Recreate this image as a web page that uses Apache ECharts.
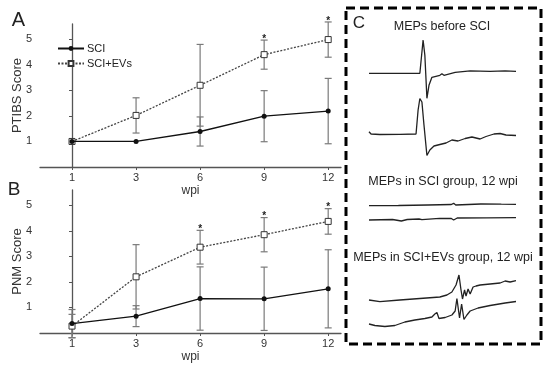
<!DOCTYPE html>
<html>
<head>
<meta charset="utf-8">
<script src="https://cdn.jsdelivr.net/npm/echarts@6/dist/echarts.min.js"></script>
<style>html,body{margin:0;padding:0;background:#fff;}#c{width:550px;height:371px;}</style>
</head>
<body>
<div id="c"></div>
<script>
// ---- data ----
const categories = ['1', '3', '6', '9', '12'];
const yTicks = [1, 2, 3, 4, 5];

const ptibsSCI = [1.0, 1.0, 1.39, 1.99, 2.19];
const ptibsSCIErr = [0, 0, 0.57, 1.0, 1.28];
const ptibsEVs = [1.0, 2.02, 3.2, 4.40, 4.99];
const ptibsEVsErr = [0, 0.69, 1.6, 0.57, 0.69];
const ptibsSig = [false, false, false, true, true];

const pnmSCI = [0.37, 0.66, 1.35, 1.34, 1.73];
const pnmSCIErr = [0.55, 0.41, 1.24, 1.24, 1.53];
const pnmEVs = [0.27, 2.2, 3.36, 3.85, 4.37];
const pnmEVsErr = [0.46, 1.26, 0.66, 0.67, 0.5];
const pnmSig = [false, false, true, true, true];

// MEP traces: [time (ms), amplitude (a.u.)]
const mepBefore1 = [[0,0],[17.3,0],[17.7,0.1],[18.4,3.33],[19.0,1.8],[19.7,-2.5],[20.4,-1.2],[21.4,-0.4],[24.1,-0.2],[24.8,-0.05],[25.5,-0.2],[29.3,0.1],[34.4,0.25],[41.2,0.2],[46.3,0.25],[50,0.2]];
const mepBefore2 = [[0,0.13],[0.7,-0.1],[3.7,-0.15],[10.5,-0.13],[16.0,-0.1],[16.7,2.3],[17.3,3.45],[18.0,3.1],[18.7,0.8],[19.7,-2.25],[20.7,-1.7],[22.1,-1.3],[24.1,-1.15],[26.2,-1.0],[28.2,-0.7],[30.3,-0.8],[32.7,-0.55],[35.0,-0.4],[37.8,-0.6],[39.8,-0.35],[42.5,-0.1],[44.6,-0.05],[46.6,-0.2],[50,-0.25]];
const mepSCI1 = [[0,-0.07],[10,-0.05],[20,0],[28,0.05],[28.8,0.17],[29.5,0],[38,0.1],[45,0.08],[50,0.07]];
const mepSCI2 = [[0,-0.1],[8,-0.05],[11,-0.2],[13,-0.05],[17,0],[18,-0.07],[24,0.07],[28,0.05],[28.8,-0.1],[30,0.1],[40,0.12],[50,0.13]];
const mepEVs1 = [[0,0],[3.7,-0.17],[10.5,0],[17.3,0.15],[24.1,0.3],[26.5,0.5],[28.2,0.8],[29.6,1.5],[30.6,2.5],[31.3,1.0],[31.8,0.1],[32.5,1.0],[33.0,0.4],[33.7,1.1],[34.4,0.6],[35.4,1.3],[36.4,1.4],[37.8,1.5],[41.2,1.6],[44.6,1.7],[46.3,1.9],[48,1.8],[50,1.93]];
const mepEVs2 = [[0,-0.4],[2.0,-0.55],[5.4,-0.65],[8.8,-0.55],[12.2,-0.2],[15.6,0],[19.0,0.15],[21.4,0.3],[22.4,0.6],[23.1,0.75],[23.8,0.15],[25.9,0.25],[28.2,0.5],[29.3,0.9],[29.9,2.15],[30.8,0.2],[31.5,1.6],[32.3,0.05],[33.3,0.5],[34.4,0.9],[37.1,1.2],[41.2,1.45],[46.3,1.7],[50,1.85]];

// ---- chart ----
const FONT = 'Liberation Sans, Arial, sans-serif';
const axisGray = '#555';
const labelGray = '#333';
const errGray = '#7a7a7a';

function idxData(vals) { return vals.map((v, i) => [i, v]); }
function errData(vals, errs, sig) { return vals.map((v, i) => [i, v - errs[i], v + errs[i], sig ? (sig[i] ? 1 : 0) : 0]); }

function errRender(params, api) {
  const x = api.value(0);
  const lo = api.coord([x, api.value(1)]);
  const hi = api.coord([x, api.value(2)]);
  const children = [];
  const hw = 3.5;
  if (Math.abs(hi[1] - lo[1]) > 0.5) {
    const st = { stroke: errGray, lineWidth: 1.2 };
    children.push({ type: 'line', shape: { x1: lo[0], y1: lo[1], x2: hi[0], y2: hi[1] }, style: st });
    children.push({ type: 'line', shape: { x1: lo[0] - hw, y1: lo[1], x2: lo[0] + hw, y2: lo[1] }, style: st });
    children.push({ type: 'line', shape: { x1: hi[0] - hw, y1: hi[1], x2: hi[0] + hw, y2: hi[1] }, style: st });
  }
  if (api.value(3) === 1) {
    children.push({ type: 'text', style: { text: '*', x: hi[0], y: hi[1] - 1, align: 'center', verticalAlign: 'middle', fill: '#222', font: 'bold 10px ' + FONT } });
  }
  return { type: 'group', children: children };
}

const xAxisBase = (gi) => ({
  type: 'value', gridIndex: gi, min: -0.5, max: 4.2,
  splitLine: { show: false },
  axisLine: { lineStyle: { color: axisGray, width: 1.3 } },
  axisTick: { show: true, length: 3, customValues: [0, 1, 2, 3, 4], lineStyle: { color: axisGray } },
  axisLabel: { customValues: [0, 1, 2, 3, 4], formatter: v => categories[Math.round(v)], color: labelGray, fontSize: 11, fontFamily: FONT, margin: 5 },
  name: 'wpi', nameLocation: 'middle', nameGap: 18, nameMoveOverlap: false,
  nameTextStyle: { color: labelGray, fontSize: 12, fontFamily: FONT }
});
const yAxisBase = (gi, title) => ({
  type: 'value', gridIndex: gi, min: 0, max: 5.6,
  splitLine: { show: false },
  axisLine: { show: true, lineStyle: { color: axisGray, width: 1.3 } },
  axisTick: { show: true, length: 3, customValues: yTicks, lineStyle: { color: axisGray } },
  axisLabel: { customValues: yTicks, color: labelGray, fontSize: 11, fontFamily: FONT, margin: 8 },
  name: title, nameLocation: 'middle', nameGap: 16, nameRotate: 90, nameMoveOverlap: false,
  nameTextStyle: { color: labelGray, fontSize: 13, fontFamily: FONT }
});

const traceNames = [mepBefore1, mepBefore2, mepSCI1, mepSCI2, mepEVs1, mepEVs2];
const traceGrids = [
  { top: 33.3, height: 70, min: -3, max: 4 },
  { top: 93, height: 70, min: -3, max: 4 },
  { top: 195, height: 20, min: -1, max: 1 },
  { top: 209, height: 20, min: -1, max: 1 },
  { top: 270, height: 40, min: -1, max: 3 },
  { top: 290, height: 40, min: -1, max: 3 }
];

const grids = [
  { left: 40, top: 24, width: 301, height: 143, outerBoundsMode: 'none' },
  { left: 40, top: 190, width: 301, height: 143, outerBoundsMode: 'none' }
];
const xAxes = [xAxisBase(0), xAxisBase(1)];
const yAxes = [yAxisBase(0, 'PTIBS Score'), yAxisBase(1, 'PNM Score')];
const series = [];

// error bars
series.push({ type: 'custom', xAxisIndex: 0, yAxisIndex: 0, renderItem: errRender, data: errData(ptibsSCI, ptibsSCIErr), z: 1, silent: true });
series.push({ type: 'custom', xAxisIndex: 0, yAxisIndex: 0, renderItem: errRender, data: errData(ptibsEVs, ptibsEVsErr, ptibsSig), z: 1, silent: true });
series.push({ type: 'custom', xAxisIndex: 1, yAxisIndex: 1, renderItem: errRender, data: errData(pnmSCI, pnmSCIErr), z: 1, silent: true });
series.push({ type: 'custom', xAxisIndex: 1, yAxisIndex: 1, renderItem: errRender, data: errData(pnmEVs, pnmEVsErr, pnmSig), z: 1, silent: true });

const sciStyle = { symbol: 'circle', symbolSize: 5, lineStyle: { color: '#111', width: 1.3 }, itemStyle: { color: '#111', borderColor: '#111', borderWidth: 0 } };
const evsStyle = { symbol: 'rect', symbolSize: 6, lineStyle: { color: '#444', width: 1.3, type: [2, 1.5] }, itemStyle: { color: '#fff', borderColor: '#333', borderWidth: 1 } };

series.push(Object.assign({ type: 'line', name: 'SCI+EVs', xAxisIndex: 0, yAxisIndex: 0, data: idxData(ptibsEVs), z: 3, showAllSymbol: true }, evsStyle));
series.push(Object.assign({ type: 'line', name: 'SCI', xAxisIndex: 0, yAxisIndex: 0, data: idxData(ptibsSCI), z: 4 }, sciStyle));
series.push(Object.assign({ type: 'line', name: 'SCI+EVs', xAxisIndex: 1, yAxisIndex: 1, data: idxData(pnmEVs), z: 3 }, evsStyle));
series.push(Object.assign({ type: 'line', name: 'SCI', xAxisIndex: 1, yAxisIndex: 1, data: idxData(pnmSCI), z: 4 }, sciStyle));

traceNames.forEach((tr, k) => {
  const g = traceGrids[k];
  const gi = grids.length;
  grids.push({ left: 369, width: 147, top: g.top, height: g.height, outerBoundsMode: 'none' });
  xAxes.push({ type: 'value', gridIndex: gi, min: 0, max: 50, show: false });
  yAxes.push({ type: 'value', gridIndex: gi, min: g.min, max: g.max, show: false });
  series.push({ type: 'line', xAxisIndex: gi, yAxisIndex: gi, data: tr, symbol: 'none', lineStyle: { color: '#222', width: 1.3 }, silent: true, animation: false });
});

const chart = echarts.init(document.getElementById('c'), null, { renderer: 'canvas' });
chart.setOption({
  animation: false,
  backgroundColor: '#fff',
  grid: grids,
  xAxis: xAxes,
  yAxis: yAxes,
  legend: {
    data: ['SCI', 'SCI+EVs'], orient: 'vertical', left: 57, top: 43,
    itemWidth: 26, itemHeight: 6, itemGap: 4,
    textStyle: { color: '#222', fontSize: 11, fontFamily: FONT, padding: [0, 0, 0, -2] },
    padding: 0, selectedMode: false
  },
  series: series,
  graphic: [
    { type: 'rect', shape: { x: 346, y: 8, width: 195, height: 336 }, style: { fill: 'none', stroke: '#000', lineWidth: 3, lineDash: [9, 5] }, silent: true },
    { type: 'text', x: 18.5, y: 20.5, style: { text: 'A', font: '20px ' + FONT, fill: '#222', align: 'center', verticalAlign: 'middle' } },
    { type: 'text', x: 14, y: 189.5, style: { text: 'B', font: '19px ' + FONT, fill: '#222', align: 'center', verticalAlign: 'middle' } },
    { type: 'text', x: 359, y: 23.5, style: { text: 'C', font: '17px ' + FONT, fill: '#222', align: 'center', verticalAlign: 'middle' } },
    { type: 'text', x: 442, y: 27, style: { text: 'MEPs before SCI', font: '12.5px ' + FONT, fill: '#222', align: 'center', verticalAlign: 'middle' } },
    { type: 'text', x: 443, y: 182, style: { text: 'MEPs in SCI group, 12 wpi', font: '12.5px ' + FONT, fill: '#222', align: 'center', verticalAlign: 'middle' } },
    { type: 'text', x: 443, y: 258, style: { text: 'MEPs in SCI+EVs group, 12 wpi', font: '12.5px ' + FONT, fill: '#222', align: 'center', verticalAlign: 'middle' } }
  ]
});
</script>
</body>
</html>
